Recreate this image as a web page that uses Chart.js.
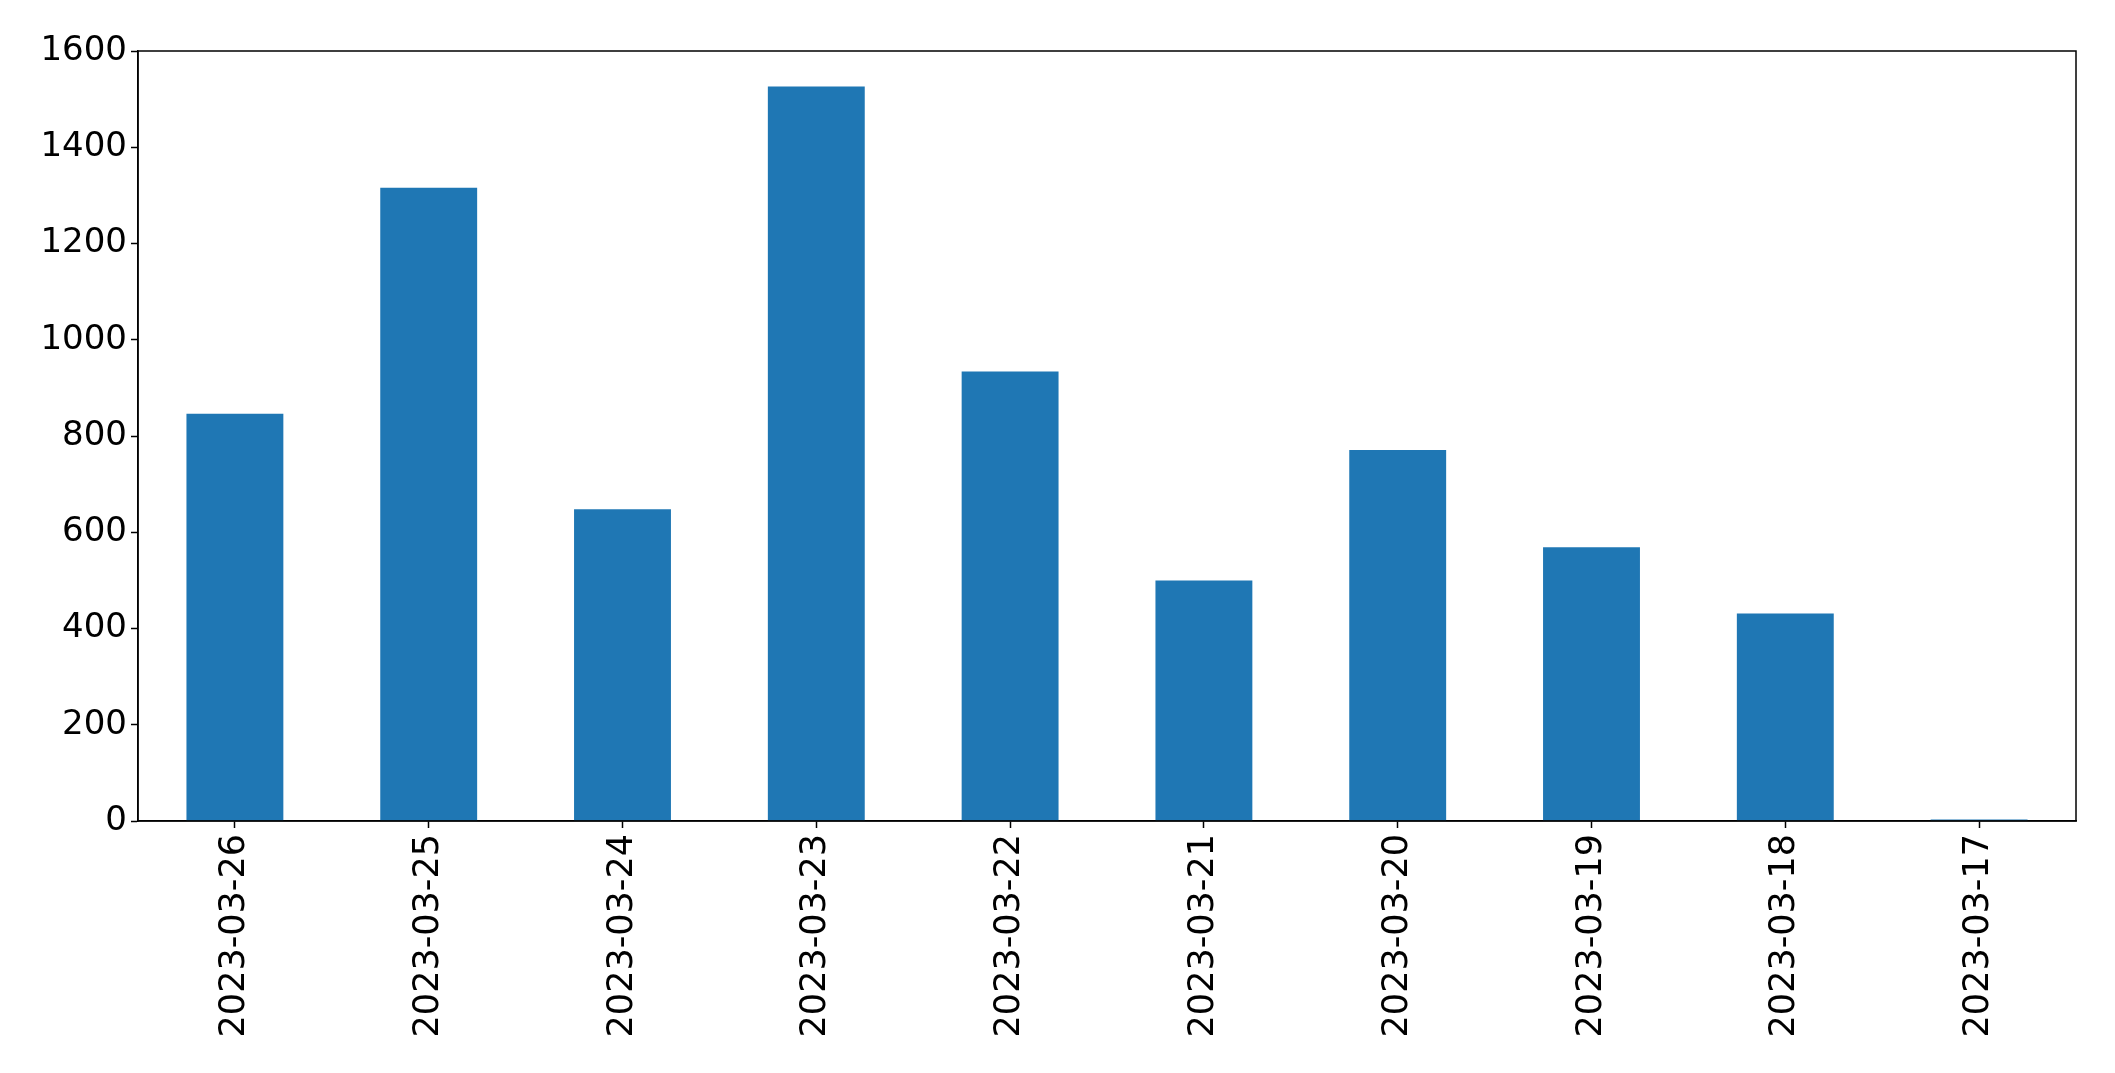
<!DOCTYPE html>
<html>
<head>
<meta charset="utf-8">
<script src="https://cdn.jsdelivr.net/npm/chart.js@4.4.0/dist/chart.umd.min.js"></script>
<style>
html,body{margin:0;padding:0;background:#fff;}
#wrap{width:2115px;height:1073px;position:relative;}
</style>
</head>
<body>
<div id="wrap"><canvas id="c" width="2115" height="1073"></canvas></div>
<script>
const categories = ["2023-03-26","2023-03-25","2023-03-24","2023-03-23","2023-03-22","2023-03-21","2023-03-20","2023-03-19","2023-03-18","2023-03-17"];
const counts = [846, 1316, 648, 1526, 934, 500, 771, 569, 431, 3];
const yTicks = [0, 200, 400, 600, 800, 1000, 1200, 1400, 1600];

const frame = {
  id: 'frame',
  afterDraw(chart) {
    const a = chart.chartArea, ctx = chart.ctx;
    ctx.save();
    ctx.strokeStyle = '#000';
    ctx.lineWidth = 1.5;
    ctx.strokeRect(a.left, a.top, a.right - a.left, a.bottom - a.top);
    ctx.restore();
  }
};

new Chart(document.getElementById('c'), {
  type: 'bar',
  data: {
    labels: categories,
    datasets: [{ data: counts, backgroundColor: '#1f77b4', borderWidth: 0, barPercentage: 0.5, categoryPercentage: 1.0 }]
  },
  options: {
    responsive: false,
    animation: false,
    devicePixelRatio: 1,
    layout: { padding: { top: 51, right: 39, left: 0, bottom: 0 } },
    plugins: { legend: { display: false }, tooltip: { enabled: false } },
    scales: {
      x: {
        grid: { display: true, offset: false, drawOnChartArea: false, drawTicks: true, tickLength: 7, tickColor: '#000', tickWidth: 1.5 },
        border: { display: true, color: '#000', width: 1.5 },
        ticks: { color: '#000', font: { family: 'DejaVu Sans', size: 35 }, minRotation: 90, maxRotation: 90, padding: 6, autoSkip: false },
        afterFit(s) { s.height = 252; }
      },
      y: {
        min: 0, max: 1600,
        afterBuildTicks(s) { s.ticks = yTicks.map(v => ({ value: v })); },
        grid: { display: true, drawOnChartArea: false, drawTicks: true, tickLength: 7, tickColor: '#000', tickWidth: 1.5 },
        border: { display: true, color: '#000', width: 1.5 },
        ticks: { color: '#000', font: { family: 'DejaVu Sans', size: 34 }, padding: 4, callback: v => String(v) },
        afterFit(s) { s.width = 138; }
      }
    }
  },
  plugins: [frame]
});
</script>
</body>
</html>
